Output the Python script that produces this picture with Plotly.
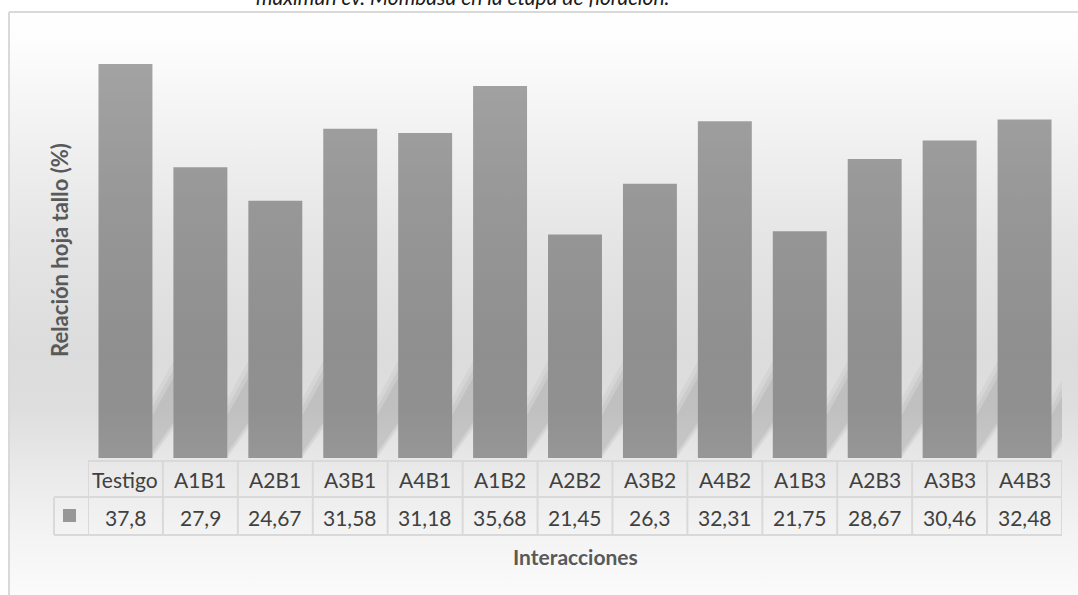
import base64
import plotly.graph_objects as go

# ---------------- data ----------------
categories = ["Testigo", "A1B1", "A2B1", "A3B1", "A4B1", "A1B2", "A2B2",
              "A3B2", "A4B2", "A1B3", "A2B3", "A3B3", "A4B3"]
values = [37.8, 27.9, 24.67, 31.58, 31.18, 35.68, 21.45,
          26.3, 32.31, 21.75, 28.67, 30.46, 32.48]
value_labels = ["37,8", "27,9", "24,67", "31,58", "31,18", "35,68", "21,45",
                "26,3", "32,31", "21,75", "28,67", "30,46", "32,48"]
title_text = "maximun cv. Mombasa en la etapa de floración."
y_title = "Relación hoja tallo (%)"
x_title = "Interacciones"

# ---------------- geometry helpers ----------------
W, H = 1078, 595
L, R, T, B = 88, 1062, 41, 458
n = len(categories)


def px(xp):
    return (xp - L) / (R - L)


def py(yp):
    return (B - yp) / (B - T)


FONT = "Lato"
TXT = "#404040"
TTL = "#595959"
LINE = "#d9d9d9"

fig = go.Figure()
fig.add_trace(go.Bar(
    x=list(range(n)), y=values, width=0.72,
    marker=dict(color="rgba(0,0,0,0.35)", line=dict(width=0)),
    hoverinfo="skip", showlegend=False,
))

# ---------------- background gradient (chart area) ----------------
stops = [(0.0, "#ffffff"), (0.05, "#fdfdfd"), (0.24, "#efefef"), (0.39, "#e5e5e5"),
         (0.58, "#dcdcdc"), (0.68, "#dedede"), (0.77, "#e8e8e8"), (0.9, "#f4f4f4"),
         (1.0, "#fbfbfb")]
svg = ('<svg xmlns="http://www.w3.org/2000/svg" width="100" height="100" preserveAspectRatio="none">'
       '<defs><linearGradient id="g" x1="0" y1="0" x2="0" y2="1">'
       + "".join(f'<stop offset="{o}" stop-color="{c}"/>' for o, c in stops)
       + '</linearGradient></defs><rect width="100" height="100" fill="url(#g)"/></svg>')
src = "data:image/svg+xml;base64," + base64.b64encode(svg.encode()).decode()
images = [dict(source=src, xref="paper", yref="paper", x=px(8), y=py(12),
               sizex=px(W + 2) - px(8), sizey=py(12) - py(H + 2),
               sizing="stretch", xanchor="left", yanchor="top", layer="below")]

shapes = []
# chart border (top and left)
shapes.append(dict(type="line", xref="paper", yref="paper", x0=px(9), x1=px(W + 5),
                   y0=py(12), y1=py(12), line=dict(color=LINE, width=2)))
shapes.append(dict(type="line", xref="paper", yref="paper", x0=px(9), x1=px(9),
                   y0=py(12), y1=py(H + 5), line=dict(color=LINE, width=2)))

# soft diagonal shadows in the gaps between bars
for i in range(n):
    xa = i + 0.36
    xb = min(i + 0.64, n - 0.5)
    frac = (xb - xa) / 0.28
    for grow, alpha in [(1.8, 0.035), (1.0, 0.045), (0.2, 0.055)]:
        y_l0, y_l1 = 0.6 - grow * 0.4, 3.9 + grow
        y_r0, y_r1 = 0.6 + 2.9 * frac - grow * 0.4, 3.9 + 3.6 * frac + grow
        path = (f"M {xa},{max(y_l0, 0)} L {xb},{max(y_r0, 0)} "
                f"L {xb},{y_r1} L {xa},{y_l1} Z")
        shapes.append(dict(type="path", xref="x", yref="y", path=path,
                           fillcolor=f"rgba(0,0,0,{alpha})", line=dict(width=0),
                           layer="below"))

# data table lines
y_h0, y_h1, y_v1 = 461, 497, 535
shapes.append(dict(type="line", xref="paper", yref="paper", x0=px(L), x1=px(R),
                   y0=py(y_h0), y1=py(y_h0), line=dict(color=LINE, width=2)))
for yy in (y_h1, y_v1):
    shapes.append(dict(type="line", xref="paper", yref="paper", x0=px(54), x1=px(R),
                       y0=py(yy), y1=py(yy), line=dict(color=LINE, width=2)))
shapes.append(dict(type="line", xref="paper", yref="paper", x0=px(54), x1=px(54),
                   y0=py(y_h1), y1=py(y_v1), line=dict(color=LINE, width=2)))
for i in range(n + 1):
    shapes.append(dict(type="line", xref="x", yref="paper", x0=i - 0.5, x1=i - 0.5,
                       y0=py(y_h0), y1=py(y_v1), line=dict(color=LINE, width=2)))
# legend key
shapes.append(dict(type="rect", xref="paper", yref="paper", x0=px(63), x1=px(76),
                   y0=py(509), y1=py(522), fillcolor="#979797", line=dict(width=0)))

annotations = []
for i, (c, v) in enumerate(zip(categories, value_labels)):
    annotations.append(dict(x=i, y=py((y_h0 + y_h1) / 2 + 1), xref="x", yref="paper",
                            text=c, showarrow=False, xanchor="center", yanchor="middle",
                            font=dict(family=FONT, size=21, color=TXT)))
    annotations.append(dict(x=i, y=py((y_h1 + y_v1) / 2 + 1), xref="x", yref="paper",
                            text=v, showarrow=False, xanchor="center", yanchor="middle",
                            font=dict(family=FONT, size=21, color=TXT)))

annotations.append(dict(x=px(462), y=py(-4), xref="paper", yref="paper", text=title_text,
                        showarrow=False, xanchor="center", yanchor="middle",
                        font=dict(family=FONT, size=21, color="#1a1a1a", style="italic")))
annotations.append(dict(x=px(575), y=py(556), xref="paper", yref="paper", text=x_title,
                        showarrow=False, xanchor="center", yanchor="middle",
                        font=dict(family=FONT, size=21, color=TTL, weight="bold")))
annotations.append(dict(x=px(59), y=py(250), xref="paper", yref="paper", text=y_title,
                        showarrow=False, xanchor="center", yanchor="middle", textangle=-90,
                        font=dict(family=FONT, size=22, color=TTL, weight="bold")))

fig.update_layout(
    width=W, height=H,
    margin=dict(l=L, r=W - R, t=T, b=H - B, pad=0),
    paper_bgcolor="white", plot_bgcolor="rgba(0,0,0,0)",
    xaxis=dict(range=[-0.5, n - 0.5], visible=False, fixedrange=True),
    yaxis=dict(range=[0, 40], visible=False, fixedrange=True),
    bargap=0.28,
    shapes=shapes, annotations=annotations, images=images,
    showlegend=False,
)

fig.write_html(
    "out.html",
    config={"displayModeBar": False},
    post_script="document.body.style.margin='0';document.body.style.overflow='hidden';",
)
